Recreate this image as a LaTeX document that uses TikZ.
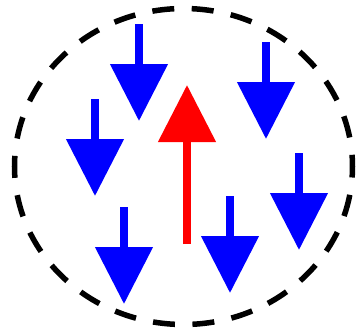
\documentclass[tikz,border=0pt]{standalone}
\usetikzlibrary{arrows.meta}
\definecolor{spinblue}{RGB}{0,0,255}
\definecolor{spinred}{RGB}{255,0,0}
\tikzset{
  spin/.style={line width=8pt, -{Triangle[length=57pt,width=56pt]}},
  boundary/.style={line width=5.5pt, dash pattern=on 22pt off 17.5pt, dash phase=11pt}
}
\begin{document}
\begin{tikzpicture}[x=1pt,y=-1pt]
\useasboundingbox (0,0) rectangle (357,332);
\draw[boundary] (183.5,166.5) ellipse [x radius=169, y radius=158];
\foreach \n/\x/\top in {a/139/24, b/95/99, c/266/42, d/299/153, e/124/207, f/230/196}{
  \coordinate (\n s) at (\x,\top);
  \coordinate (\n e) at (\x,\top+97);
  \draw[spin, spinblue] (\n s) -- (\n e);
}
\coordinate (rs) at (187,244);
\coordinate (re) at (187,85);
\draw[spin, spinred] (rs) -- (re);
\end{tikzpicture}
\end{document}
